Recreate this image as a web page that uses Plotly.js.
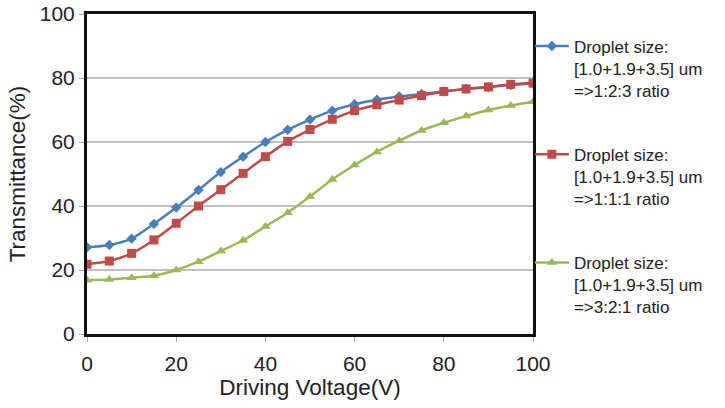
<!DOCTYPE html>
<html>
<head>
<meta charset="utf-8">
<script src="https://cdn.plot.ly/plotly-3.0.1.min.js"></script>
<style>
  html, body { margin: 0; padding: 0; background: #ffffff; }
  #chart { width: 725px; height: 408px; }
</style>
</head>
<body>
<div id="chart"></div>
<script>
// Driving voltage steps (V)
var voltage = [0, 5, 10, 15, 20, 25, 30, 35, 40, 45, 50, 55, 60, 65, 70, 75, 80, 85, 90, 95, 100];

// Transmittance (%) for each droplet-size mix
var ratio123 = [27.1, 27.8, 29.8, 34.4, 39.5, 45.0, 50.6, 55.4, 60.0, 63.8, 67.0, 69.8, 71.8, 73.2, 74.2, 75.0, 75.8, 76.6, 77.2, 77.8, 78.3];
var ratio111 = [21.8, 22.8, 25.2, 29.4, 34.6, 40.0, 45.1, 50.2, 55.4, 60.2, 63.9, 67.1, 69.8, 71.6, 73.1, 74.5, 75.8, 76.6, 77.2, 78.0, 78.4];
var ratio321 = [16.8, 17.0, 17.6, 18.2, 20.0, 22.6, 25.9, 29.3, 33.6, 37.9, 43.0, 48.3, 52.8, 56.9, 60.4, 63.6, 66.0, 68.1, 70.0, 71.4, 72.6];

var seriesNames = [
  'Droplet size:<br>[1.0+1.9+3.5] um<br>=>1:2:3 ratio',
  'Droplet size:<br>[1.0+1.9+3.5] um<br>=>1:1:1 ratio',
  'Droplet size:<br>[1.0+1.9+3.5] um<br>=>3:2:1 ratio'
];

var xTicks = [0, 20, 40, 60, 80, 100];
var yTicks = [0, 20, 40, 60, 80, 100];

function series(y, name, color, symbol, size, group) {
  return {
    x: voltage,
    y: y,
    name: name,
    legendgroup: group,
    type: 'scatter',
    mode: 'lines+markers',
    line: { color: color, width: 2.5, shape: 'spline', smoothing: 0.8 },
    marker: { color: color, symbol: symbol, size: size, line: { color: color, width: 0 } }
  };
}

var data = [
  series(ratio123, seriesNames[0], '#4A7EBB', 'diamond', 8, 'a'),
  series(ratio111, seriesNames[1], '#BE4B48', 'square', 9, 'b'),
  series(ratio321, seriesNames[2], '#98B954', 'triangle-up', 9, 'c')
];

var family = 'Liberation Sans, Arial, sans-serif';
var tickFont = { family: family, size: 21, color: '#222222' };
var titleFont = { family: family, size: 22.5, color: '#222222' };

var layout = {
  width: 725,
  height: 408,
  margin: { l: 87, r: 192, t: 14, b: 74 },
  paper_bgcolor: '#ffffff',
  plot_bgcolor: '#ffffff',
  showlegend: true,
  xaxis: {
    range: [0, 100],
    tickvals: xTicks,
    ticktext: xTicks.map(String),
    tickfont: tickFont,
    ticks: 'outside',
    ticklen: 5,
    tickcolor: '#AAAAAA',
    ticklabelstandoff: 4,
    showgrid: false,
    zeroline: false,
    showline: true,
    linecolor: '#111111',
    linewidth: 3,
    mirror: true,
    title: { text: 'Driving Voltage(V)', font: titleFont, standoff: 4 }
  },
  yaxis: {
    range: [0, 100],
    tickvals: yTicks,
    ticktext: yTicks.map(String),
    tickfont: tickFont,
    ticks: 'outside',
    ticklen: 5,
    tickcolor: '#AAAAAA',
    showgrid: true,
    gridcolor: '#BFBFBF',
    gridwidth: 1.5,
    zeroline: false,
    showline: true,
    linecolor: '#111111',
    linewidth: 3,
    mirror: true,
    title: { text: 'Transmittance(%)', font: titleFont, standoff: 8 }
  },
  legend: {
    x: 0.993,
    xanchor: 'left',
    y: 0.955,
    yanchor: 'top',
    valign: 'top',
    itemwidth: 34,
    traceorder: 'grouped',
    tracegroupgap: 39,
    bgcolor: 'rgba(0,0,0,0)',
    font: { family: family, size: 17, color: '#222222' }
  }
};

Plotly.newPlot('chart', data, layout, { displayModeBar: false, staticPlot: true });
</script>
</body>
</html>
